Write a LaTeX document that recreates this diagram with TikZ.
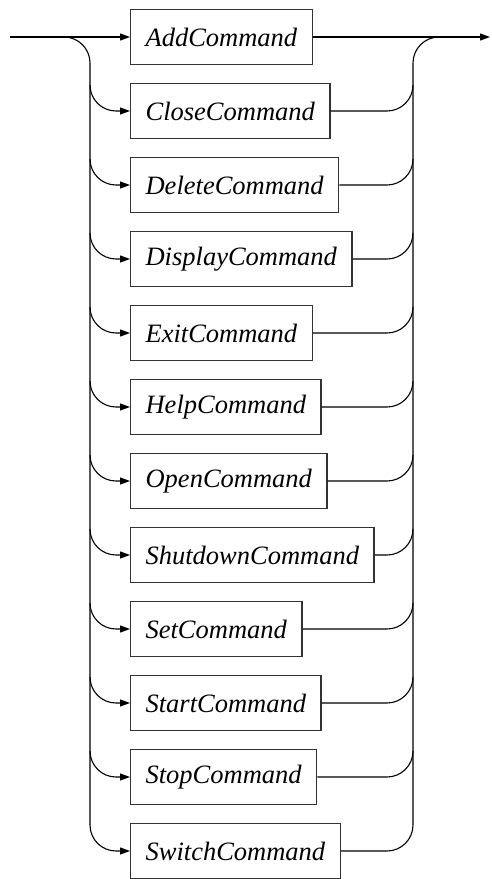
\documentclass[tikz,border=0pt]{standalone}
\usepackage{fontspec}
\setmainfont{Liberation Serif}
\usetikzlibrary{arrows.meta,calc}
\tikzset{
  cmd/.style={draw=black!80, line width=1.2pt, anchor=west, minimum height=55pt,
    inner xsep=15pt, inner ysep=0pt, font=\fontsize{26.5}{30}\selectfont\itshape},
  wire/.style={line width=1.1pt, black},
  arr/.style={wire, -{Triangle[length=10pt,width=7pt]}},
  rc/.style={rounded corners=26pt}
}
\begin{document}
\begin{tikzpicture}[x=1pt,y=1pt]
\useasboundingbox (0,0) rectangle (491,-879);
\node[cmd] (b1) at (130,-37) {AddCommand};
\node[cmd] (b2) at (130,-111) {CloseCommand};
\node[cmd] (b3) at (130,-185) {DeleteCommand};
\node[cmd] (b4) at (130,-259) {DisplayCommand};
\node[cmd] (b5) at (130,-333) {ExitCommand};
\node[cmd] (b6) at (130,-407) {HelpCommand};
\node[cmd] (b7) at (130,-481) {OpenCommand};
\node[cmd] (b8) at (130,-555) {ShutdownCommand};
\node[cmd] (b9) at (130,-629) {SetCommand};
\node[cmd] (b10) at (130,-703) {StartCommand};
\node[cmd] (b11) at (130,-777) {StopCommand};
\node[cmd] (b12) at (130,-851) {SwitchCommand};
\coordinate (in) at (10,-37);
\coordinate (out) at (490,-37);
\coordinate (L) at (90,-37);
\coordinate (R) at (413,-37);
% main line
\draw[arr] (in) -- (b1.west);
\draw[arr] (b1.east) -- (out);
% left rail
\draw[arr,rc] (in) -- (L) |- (b12.west);
\foreach \i in {2,...,11}{
  \draw[arr,rc] ($(b\i.west -| L)+(0,26)$) |- (b\i.west);
}
% right rail
\draw[wire,rc] (b12.east) -| (R) -- ($(R)+(26,0)$);
\foreach \i in {2,...,11}{
  \draw[wire,rc] (b\i.east) -| ($(b\i.east -| R)+(0,26)$);
}
\end{tikzpicture}
\end{document}
